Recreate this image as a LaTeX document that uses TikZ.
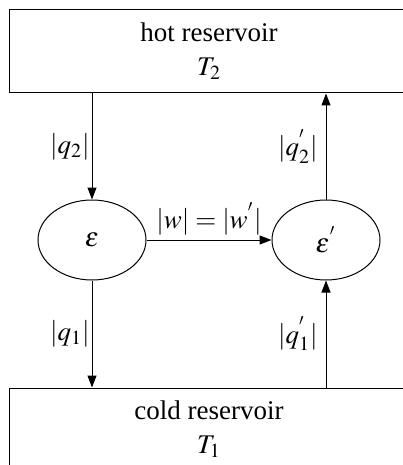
\documentclass[tikz,border=0pt]{standalone}
\usepackage{mathptmx}
\usepackage{fontspec}
\setmainfont{Liberation Serif}
\usetikzlibrary{arrows.meta, positioning, shapes.geometric}

\begin{document}
\begin{tikzpicture}[
  x=0.5pt, y=-0.5pt,
  every node/.style={font=\fontsize{13.5}{16}\selectfont},
  line width=0.5pt,
  res/.style={rectangle, draw, minimum width=200pt, minimum height=41.5pt, align=center, inner sep=0pt},
  eng/.style={ellipse, draw, minimum width=54pt, minimum height=40pt, inner sep=0pt},
  flow/.style={-{Triangle[length=6pt,width=4.5pt]}},
]
  \useasboundingbox (0,0) rectangle (402,465);

  \node[res] (hot) at (209,51.5) {hot reservoir\\[1pt] $T_2$};
  \node[res] (cold) at (209,429.5) {cold reservoir\\[1pt] $T_1$};
  \node[eng] (E) at (92,240) {$\varepsilon$};
  \node[eng] (Ep) at (326,240) {$\varepsilon^{'}$};

  \draw[flow] (hot.south -| E) -- node[left,inner sep=1pt]{$|q_2|$} (E);
  \draw[flow] (E) -- node[left,inner sep=1pt]{$|q_1|$} (cold.north -| E);
  \draw[flow] (E) -- node[above,inner sep=2pt]{$|w|=|w^{'}|$} (Ep);
  \draw[flow] (cold.north -| Ep) -- node[left,inner sep=4pt]{$|q_1^{'}|$} (Ep);
  \draw[flow] (Ep) -- node[left,inner sep=4pt]{$|q_2^{'}|$} (hot.south -| Ep);
\end{tikzpicture}
\end{document}
